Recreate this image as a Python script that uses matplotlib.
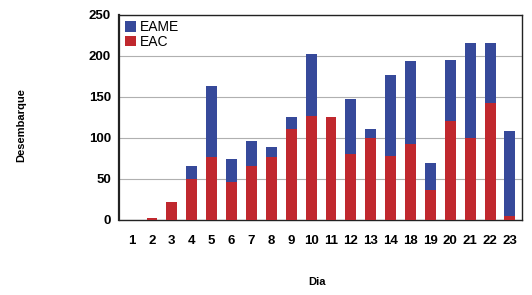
import matplotlib
matplotlib.use("Agg")
import matplotlib.pyplot as plt
import numpy as np

plt.rcParams['font.family'] = ['Liberation Sans', 'DejaVu Sans']

dias = ['1', '2', '3', '4', '5', '6', '7', '8', '9', '10', '11', '12', '13', '14',
        '18', '19', '20', '21', '22', '23']
eac = [0, 2, 22, 50, 77, 46, 65, 77, 111, 127, 125, 80, 100, 78, 93, 36, 120, 100, 143, 4]
total = [0, 2, 22, 66, 163, 74, 96, 89, 125, 202, 125, 147, 111, 177, 194, 69, 195, 216, 216, 108]
eame = [t - e for t, e in zip(total, eac)]

red = '#c0282e'
blue = '#36499a'

fig = plt.figure(figsize=(5.32, 2.95), dpi=100)
ax = fig.add_axes([0.224, 0.255, 0.757, 0.695])

x = np.arange(len(dias))
ax.bar(x, eac, width=0.55, color=red, label='EAC', zorder=3)
ax.bar(x, eame, width=0.55, bottom=eac, color=blue, label='EAME', zorder=3)

ax.set_ylim(0, 250)
ax.set_xlim(-0.65, len(dias) - 0.4)
ax.set_yticks([0, 50, 100, 150, 200, 250])
ax.set_xticks(x)
ax.set_xticklabels(dias)
ax.tick_params(axis='both', length=0, labelsize=9.5)
ax.tick_params(axis='x', pad=11)
ax.tick_params(axis='y', pad=6)
for lbl in ax.get_xticklabels() + ax.get_yticklabels():
    lbl.set_fontweight('bold')
ax.yaxis.grid(True, color='#b0b0b0', linewidth=0.8, zorder=0)
for s in ax.spines.values():
    s.set_color('#222222')
    s.set_linewidth(1.0)
ax.spines['left'].set_linewidth(1.6)

ax.set_ylabel('Desembarque', fontsize=8, fontweight='bold', labelpad=0)
ax.yaxis.set_label_coords(-0.23, 0.46)
ax.set_xlabel('Dia', fontsize=8, fontweight='bold')
ax.xaxis.set_label_coords(0.49, -0.28)

handles, labels = ax.get_legend_handles_labels()
ax.legend(handles[::-1], labels[::-1], loc='upper left', frameon=False,
          fontsize=10, handlelength=0.8, handleheight=0.8, handletextpad=0.3,
          labelspacing=0.05, borderaxespad=0.2, borderpad=0.2)

fig.savefig('out.png', dpi=100)
